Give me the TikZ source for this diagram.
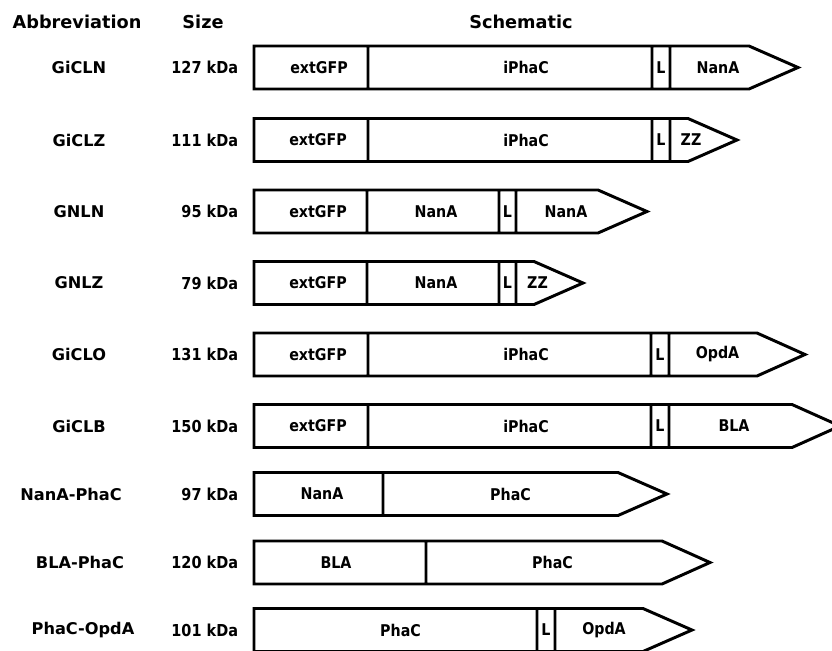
\documentclass[tikz,border=0pt]{standalone}
\usepackage{fontspec}
\setmainfont{DejaVu Sans}
\newfontfamily\narrowsans[FakeStretch=0.88]{DejaVu Sans}
\usepackage{tikz}

\begin{document}
\begin{tikzpicture}[x=0.025cm,y=-0.025cm,
 gene/.style={draw,line width=2.1pt,fill=white},
 part/.style={font=\narrowsans\fontsize{11.5}{13}\selectfont\bfseries},
 abbr/.style={font=\fontsize{11.5}{13}\selectfont\bfseries},
 kda/.style={anchor=east,font=\narrowsans\fontsize{11.7}{13}\selectfont\bfseries},
 head/.style={font=\fontsize{12.6}{14}\selectfont\bfseries}]
\useasboundingbox (0,0) rectangle (832,650);
\node[head] (hAbbr) at (77,22) {Abbreviation};
\node[head] (hSize) at (203,22) {Size};
\node[head] (hSchem) at (521,22) {Schematic};
% GiCLN
\draw[gene] (254,46) -- (749,46) -- (798,67.5) -- (749,89) -- (254,89) -- cycle
 (368,46) -- (368,89) (652,46) -- (652,89) (670,46) -- (670,89);
\node[abbr] (cln) at (79,67.5) {GiCLN};
\node[kda] (clnSize) at (243,67.5) {127 kDa};
\node[part] (clnA) at (319,67.5) {extGFP};
\node[part] (clnB) at (526,67.5) {iPhaC};
\node[part] (clnL) at (661,67.5) {L};
\node[part] (clnC) at (718,67.5) {NanA};
% GiCLZ
\draw[gene] (254,118.5) -- (688,118.5) -- (737,140) -- (688,161.5) -- (254,161.5) -- cycle
 (368,118.5) -- (368,161.5) (652,118.5) -- (652,161.5) (670,118.5) -- (670,161.5);
\node[abbr] (clz) at (79,140) {GiCLZ};
\node[kda] (clzSize) at (243,140) {111 kDa};
\node[part] (clzA) at (318,140) {extGFP};
\node[part] (clzB) at (526,140) {iPhaC};
\node[part] (clzL) at (661,140) {L};
\node[part] (clzC) at (691,140) {ZZ};
% GNLN
\draw[gene] (254,190) -- (598,190) -- (647,211.5) -- (598,233) -- (254,233) -- cycle
 (367,190) -- (367,233) (499,190) -- (499,233) (516,190) -- (516,233);
\node[abbr] (nln) at (79,211.5) {GNLN};
\node[kda] (nlnSize) at (243,211.5) {95 kDa};
\node[part] (nlnA) at (318,211.5) {extGFP};
\node[part] (nlnB) at (436,211.5) {NanA};
\node[part] (nlnL) at (507.5,211.5) {L};
\node[part] (nlnC) at (566,211.5) {NanA};
% GNLZ
\draw[gene] (254,261.5) -- (534,261.5) -- (583,283) -- (534,304.5) -- (254,304.5) -- cycle
 (367,261.5) -- (367,304.5) (499,261.5) -- (499,304.5) (516,261.5) -- (516,304.5);
\node[abbr] (nlz) at (79,283) {GNLZ};
\node[kda] (nlzSize) at (243,283) {79 kDa};
\node[part] (nlzA) at (318,283) {extGFP};
\node[part] (nlzB) at (436,283) {NanA};
\node[part] (nlzL) at (507.5,283) {L};
\node[part] (nlzC) at (537.5,283) {ZZ};
% GiCLO
\draw[gene] (254,333) -- (757,333) -- (805,354.5) -- (757,376) -- (254,376) -- cycle
 (368,333) -- (368,376) (651,333) -- (651,376) (669,333) -- (669,376);
\node[abbr] (clo) at (79,354.5) {GiCLO};
\node[kda] (cloSize) at (243,354.5) {131 kDa};
\node[part] (cloA) at (318,354.5) {extGFP};
\node[part] (cloB) at (526,354.5) {iPhaC};
\node[part] (cloL) at (660,354.5) {L};
\node[part] (cloC) at (717.5,354.5) {OpdA};
% GiCLB
\draw[gene] (254,404.5) -- (792,404.5) -- (840,426) -- (792,447.5) -- (254,447.5) -- cycle
 (368,404.5) -- (368,447.5) (651,404.5) -- (651,447.5) (669,404.5) -- (669,447.5);
\node[abbr] (clb) at (79,426) {GiCLB};
\node[kda] (clbSize) at (243,426) {150 kDa};
\node[part] (clbA) at (318,426) {extGFP};
\node[part] (clbB) at (526,426) {iPhaC};
\node[part] (clbL) at (660,426) {L};
\node[part] (clbC) at (734,426) {BLA};
% NanA-PhaC
\draw[gene] (254,472.5) -- (618,472.5) -- (667,494) -- (618,515.5) -- (254,515.5) -- cycle
 (383,472.5) -- (383,515.5);
\node[abbr] (nap) at (71,494) {NanA-PhaC};
\node[kda] (napSize) at (243,494) {97 kDa};
\node[part] (napA) at (322,494) {NanA};
\node[part] (napB) at (510.5,494) {PhaC};
% BLA-PhaC
\draw[gene] (254,541) -- (662,541) -- (710,562.5) -- (662,584) -- (254,584) -- cycle
 (426,541) -- (426,584);
\node[abbr] (blp) at (80,562.5) {BLA-PhaC};
\node[kda] (blpSize) at (243,562.5) {120 kDa};
\node[part] (blpA) at (336,562.5) {BLA};
\node[part] (blpB) at (552.5,562.5) {PhaC};
% PhaC-OpdA
\draw[gene] (254,608.5) -- (643,608.5) -- (692,630) -- (643,651.5) -- (254,651.5) -- cycle
 (537,608.5) -- (537,651.5) (555,608.5) -- (555,651.5);
\node[abbr] (pho) at (83,630) {PhaC-OpdA};
\node[kda] (phoSize) at (243,630) {101 kDa};
\node[part] (phoA) at (400.5,630) {PhaC};
\node[part] (phoL) at (546,630) {L};
\node[part] (phoC) at (604,630) {OpdA};
\end{tikzpicture}
\end{document}
